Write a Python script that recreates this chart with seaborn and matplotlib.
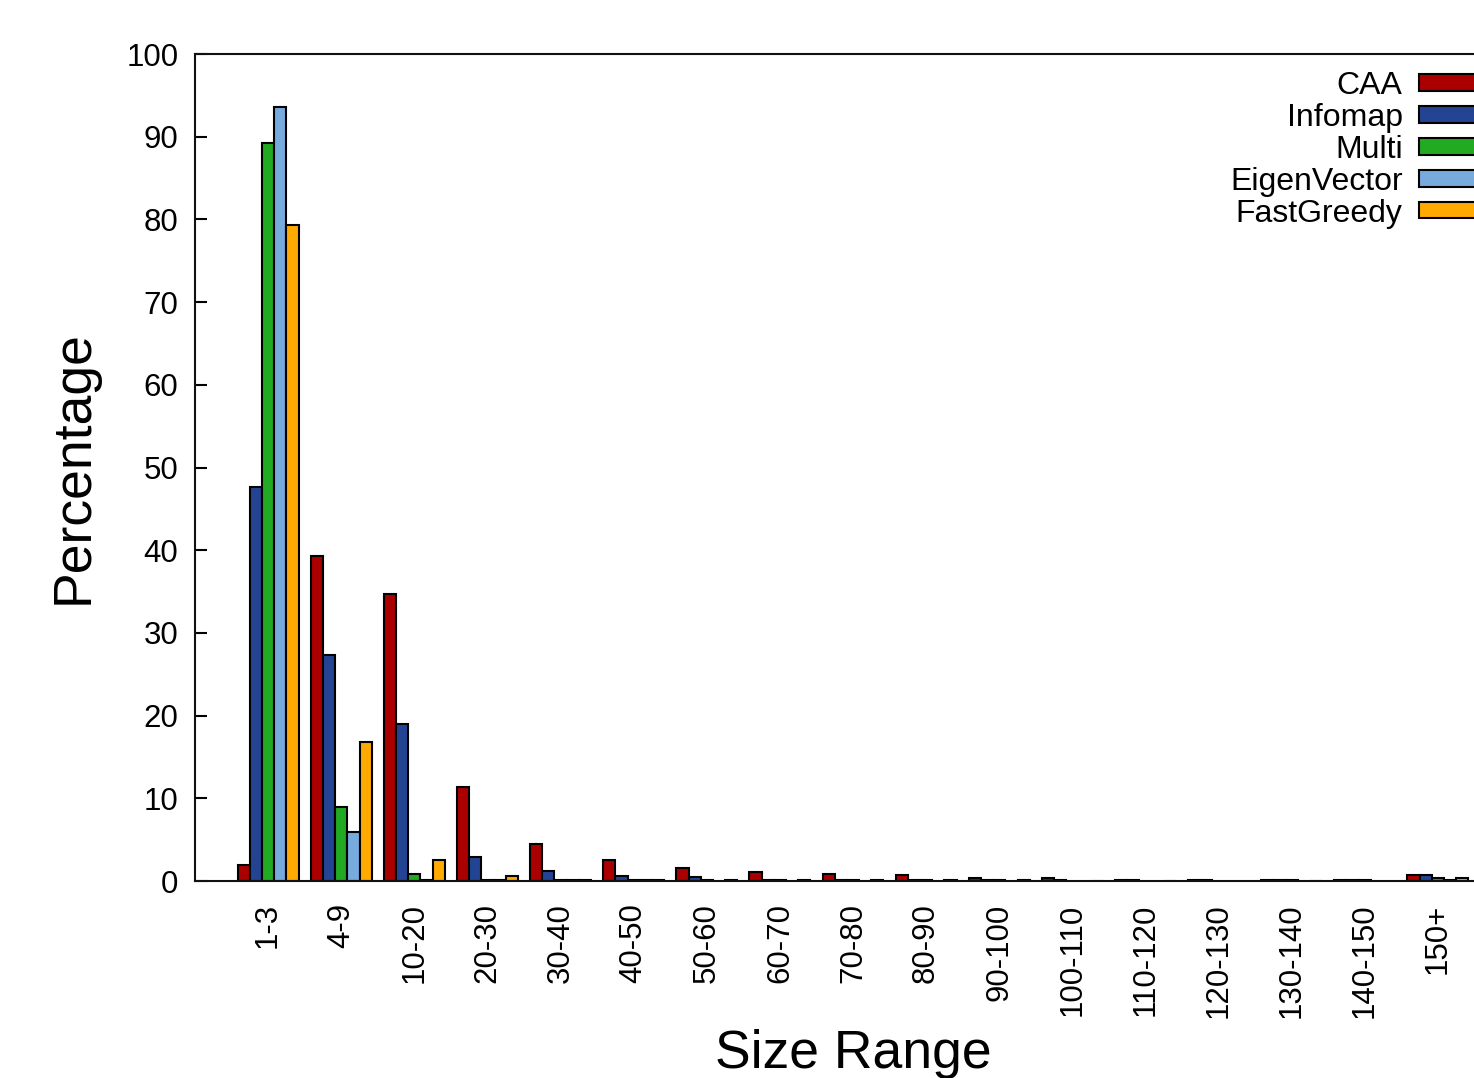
import numpy as np
import pandas as pd
from matplotlib import pyplot as plt
import seaborn as sns

# size ranges on the x axis
ranges = ['1-3', '4-9', '10-20', '20-30', '30-40', '40-50', '50-60', '60-70', '70-80',
          '80-90', '90-100', '100-110', '110-120', '120-130', '130-140', '140-150', '150+']

nan = np.nan
# percentage of communities per size range
caa = [2.0, 39.3, 34.7, 11.4, 4.5, 2.5, 1.6, 1.1, 0.9, 0.7, 0.4, 0.35, 0.15, 0.15, 0.15, 0.15, 0.7]
infomap = [47.6, 27.3, 19.0, 2.9, 1.2, 0.6, 0.5, 0.15, 0.15, 0.15, 0.15, 0.15, 0.15, 0.15, 0.15, 0.15, 0.7]
multi = [89.2, 8.9, 0.85, 0.15, 0.15, 0.15, 0.15, 0.15, 0.15, 0.15, 0.15, nan, nan, nan, 0.15, 0.15, 0.4]
eigen = [93.6, 5.9, 0.15, 0.15, 0.15, 0.15, nan, nan, nan, nan, nan, nan, nan, nan, nan, nan, 0.15]
fastgreedy = [79.3, 16.8, 2.5, 0.6, 0.15, 0.15, 0.15, 0.15, 0.15, 0.15, 0.15, 0.05, 0.05, nan, 0.05, nan, 0.4]

methods = ['CAA', 'Infomap', 'Multi', 'EigenVector', 'FastGreedy']
colors = ['#aa0000', '#224493', '#22aa22', '#77aadd', '#ffaa00']

# long table for seaborn
series = [caa, infomap, multi, eigen, fastgreedy]
df = pd.DataFrame({
    'range': ranges * len(methods),
    'method': np.repeat(methods, len(ranges)),
    'pct': np.concatenate(series),
})

sns.set_style('white')
plt.rcParams['font.family'] = ['Liberation Sans', 'DejaVu Sans']
plt.rcParams.update({'text.color': 'black', 'axes.labelcolor': 'black',
                     'xtick.color': 'black', 'ytick.color': 'black'})

fig = plt.figure(figsize=(14.74, 10.78), dpi=100)
ax = fig.add_axes([0.1323, 0.1827, 0.8928, 0.7672])

sns.barplot(data=df, x='range', y='pct', hue='method', order=ranges, hue_order=methods,
            palette=colors, width=5/6, gap=0, edgecolor='black', linewidth=1.5,
            errorbar=None, saturation=1, ax=ax)

ax.set_xlim(-1, 17)
ax.set_ylim(0, 100)
ax.set_yticks(range(0, 101, 10))

for s in ax.spines.values():
    s.set_visible(True)
    s.set_linewidth(1.5)
    s.set_color('#111111')

ax.tick_params(axis='y', direction='in', length=8.6, width=1.5, pad=12, labelsize=22.5, left=True)
ax.tick_params(axis='x', length=0, pad=16, labelsize=22.5, labelrotation=90)
for lab in ax.get_xticklabels():
    lab.set_va('top')

ax.set_ylabel('Percentage', fontsize=38.5, labelpad=20)
ax.set_xlabel('Size Range', fontsize=38.5, labelpad=8)

handles, labels = ax.get_legend_handles_labels()
ax.legend(handles, labels, loc='upper right', bbox_to_anchor=(1.021, 0.949),
          bbox_transform=fig.transFigure, frameon=False, markerfirst=False,
          handlelength=2.2, handleheight=0.42, handletextpad=0.5,
          labelspacing=0.06, borderpad=0, fontsize=23)

fig.savefig('out.png', dpi=100)
